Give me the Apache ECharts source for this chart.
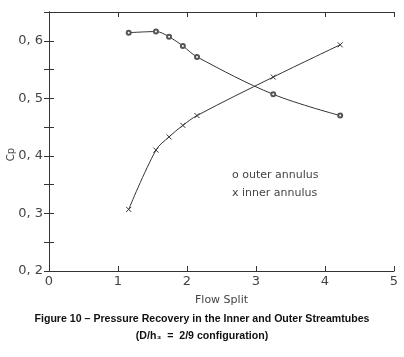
<!DOCTYPE html>
<html>
<head>
<meta charset="utf-8">
<script src="https://cdn.jsdelivr.net/npm/echarts@6/dist/echarts.min.js"></script>
<style>
  html, body { margin: 0; padding: 0; background: #fff; }
  #chart { width: 404px; height: 357px; }
</style>
</head>
<body>
<div id="chart"></div>
<script>
// flow split values (x) shared by both streamtubes
let flowSplit = [1.155, 1.55, 1.74, 1.94, 2.145, 3.25, 4.22];
let outerCp = [0.614, 0.616, 0.607, 0.591, 0.572, 0.507, 0.470];
let innerCp = [0.307, 0.410, 0.433, 0.453, 0.470, 0.537, 0.593];
let xTicks = [0, 1, 2, 3, 4, 5];
let yTicks = [0.2, 0.3, 0.4, 0.5, 0.6];

const ink = '#333';
const font = 'DejaVu Sans';
const xMark = 'path://M0,0L10,10M10,0L0,10';

let myChart = echarts.init(document.getElementById('chart'));

function pairs(ys) {
    return flowSplit.map((x, i) => [x, ys[i]]);
}

let axisLine = { show: true, lineStyle: { color: ink, width: 1 } };
let tick = { show: true, inside: true, length: 5, lineStyle: { color: ink } };

myChart.setOption({
    animation: false,
    grid: { left: 49, right: 10, top: 12, bottom: 86, outerBoundsMode: 'none', containLabel: false },
    xAxis: [
        {
            type: 'value', min: xTicks[0], max: xTicks[xTicks.length - 1], interval: 1,
            axisLine: axisLine, axisTick: tick,
            axisLabel: { color: '#444', fontFamily: font, fontSize: 13, margin: 4 },
            splitLine: { show: false },
            name: 'Flow Split', nameLocation: 'middle', nameGap: 24,
            nameTextStyle: { color: '#444', fontFamily: font, fontSize: 11, letterSpacing: 3.2 }
        },
        {
            type: 'value', position: 'top', min: 0, max: 5, interval: 1,
            axisLine: axisLine, axisTick: tick,
            axisLabel: { show: false }, splitLine: { show: false }
        }
    ],
    yAxis: [
        {
            type: 'value', min: 0.2, max: 0.65, interval: 0.05,
            axisLine: axisLine, axisTick: tick,
            axisLabel: {
                color: '#444', fontFamily: font, fontSize: 13, margin: 6,
                formatter: v => yTicks.some(t => Math.abs(t - v) < 1e-6) ? v.toFixed(1).replace('.', ', ') : ''
            },
            splitLine: { show: false }
        },
        {
            type: 'value', min: 0.2, max: 0.65, interval: 0.05,
            axisLine: axisLine, axisTick: tick,
            axisLabel: { show: false }, splitLine: { show: false }
        }
    ],
    legend: {
        orient: 'vertical', left: 222, top: 165, itemGap: 7,
        icon: 'none', itemWidth: 0, itemHeight: 6,
        textStyle: { color: '#444', fontFamily: font, fontSize: 11, letterSpacing: 2.3 },
        formatter: name => (name.indexOf('outer') === 0 ? 'o ' : 'x ') + name,
        data: ['outer annulus', 'inner annulus']
    },
    series: [
        {
            name: 'outer annulus', type: 'line', smooth: 0.35,
            data: pairs(outerCp),
            symbol: 'emptyCircle', symbolSize: 4,
            lineStyle: { color: ink, width: 1 },
            itemStyle: { color: '#555', borderWidth: 1 }
        },
        {
            name: 'inner annulus', type: 'line', smooth: 0.35,
            data: pairs(innerCp),
            symbol: xMark, symbolSize: 5,
            lineStyle: { color: ink, width: 1 },
            itemStyle: { color: 'none', borderColor: ink, borderWidth: 1 }
        }
    ],
    graphic: [
        {
            type: 'text', left: 6, top: 148, rotation: Math.PI / 2,
            style: { text: 'Cp', font: '10px "DejaVu Sans"', fill: '#444' }
        },
        {
            type: 'text', left: 'center', top: 314,
            style: {
                text: 'Figure 10 \u2013 Pressure Recovery in the Inner and Outer Streamtubes',
                font: 'bold 10.6px "Liberation Sans"', fill: '#111'
            }
        },
        {
            type: 'text', left: 'center', top: 331,
            style: {
                text: '(D/h\u2083  =  2/9 configuration)',
                font: 'bold 10.6px "Liberation Sans"', fill: '#111'
            }
        }
    ]
});
</script>
</body>
</html>
